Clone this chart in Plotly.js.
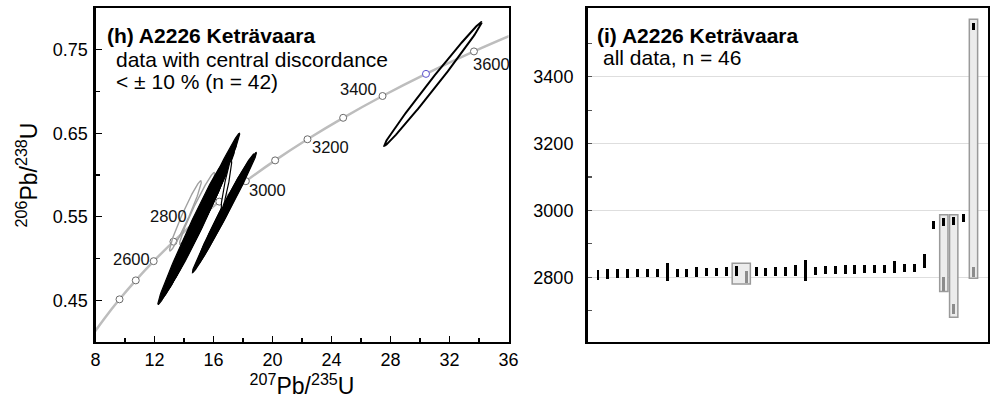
<!DOCTYPE html>
<html>
<head>
<meta charset="utf-8">
<script src="https://cdn.plot.ly/plotly-3.0.1.min.js"></script>
<style>
  html,body{margin:0;padding:0;background:#fff;}
  #chart{width:990px;height:402px;}
</style>
</head>
<body>
<div id="chart"></div>
<script>
// ---------------- Panel (h): concordia diagram ----------------
// Concordia reference points (age in Ma) with 207Pb/235U and 206Pb/238U ratios
const concAge = [2200, 2300, 2400, 2500, 2600, 2700, 2800, 2900, 3000, 3100, 3200, 3300, 3400, 3500, 3600, 3700];
const concX   = [7.730, 8.633, 9.629, 10.730, 11.944, 13.284, 14.763, 16.393, 18.193, 20.180, 22.371, 24.791, 27.460, 30.405, 33.657, 37.242];
const concY   = [0.4068, 0.4288, 0.4511, 0.4738, 0.4968, 0.5202, 0.5440, 0.5681, 0.5926, 0.6175, 0.6428, 0.6685, 0.6946, 0.7211, 0.7480, 0.7753];
const markerAges = [2400, 2500, 2600, 2700, 2800, 2900, 3000, 3100, 3200, 3300, 3400, 3500, 3600];
const highlightAge = 3500;
const labelAges = [2600, 2800, 3000, 3200, 3400, 3600];

// Error ellipses: 207Pb/235U, its error, 206Pb/238U, its error, error correlation, kind
const ellX    = [14.095, 14.89, 14.415, 15.14, 15.0, 15.05, 14.55, 15.45, 15.5, 14.5, 15.675, 15.825, 14.95, 16.87, 16.735, 16.875, 17.0, 16.65, 30.875];
const ellSX   = [1.075, 1.19, 2.185, 2.64, 2.2, 1.95, 1.95, 1.95, 1.6, 1.6, 1.875, 1.525, 1.65, 0.36, 2.175, 1.875, 1.6, 1.85, 3.305];
const ellY    = [0.551, 0.560, 0.5285, 0.551, 0.5415, 0.5415, 0.5275, 0.557, 0.565, 0.5265, 0.5685, 0.577, 0.5425, 0.588, 0.555, 0.5625, 0.5675, 0.5525, 0.709];
const ellSY   = [0.042, 0.043, 0.0835, 0.099, 0.0795, 0.0715, 0.0725, 0.071, 0.060, 0.0635, 0.0685, 0.055, 0.0625, 0.030, 0.072, 0.0625, 0.0525, 0.0625, 0.074];
const ellRho  = [0.97, 0.975, 0.989, 0.992, 0.989, 0.988, 0.988, 0.989, 0.987, 0.987, 0.99, 0.987, 0.988, 0.93, 0.992, 0.99, 0.988, 0.99, 0.9947];
const ellKind = ['outside', 'outside', 'accepted', 'accepted', 'accepted', 'accepted', 'accepted', 'accepted', 'accepted', 'accepted', 'accepted', 'accepted', 'accepted', 'open', 'accepted', 'accepted', 'accepted', 'accepted', 'old'];

// ---------------- Panel (i): ranked ages ----------------
const barRank = [0,1,2,3,4,5,6,7,8,9,10,11,12,13,14,16,17,18,19,20,21,22,23,24,25,26,27,28,29,30,31,32,33,34,35,36,37,38];
const barAge  = [2807,2810,2811,2811,2813,2812,2813,2816,2814,2814,2817,2816,2817,2817,2819,2817,2817,2818,2818,2820,2821,2820,2821,2822,2823,2823,2824,2825,2826,2830,2829,2829,2848,2957,2965,2968,2977,3551];
const barErr  = [15,16,14,14,13,12,11,27,12,12,15,12,12,13,15,13,12,13,14,16,31,12,12,13,14,13,12,13,12,18,12,12,21,12,11,11,13,11];
const greyRank = [15, 35, 36, 38];
const greyAge  = [2801, 2780, 2705, 2817];
const greyErr  = [19, 20, 15, 15];
const boxFirst = [14, 35, 36, 38];
const boxLast  = [15, 35, 36, 38];
const boxLow   = [2780, 2757, 2680, 2797];
const boxHigh  = [2842, 2987, 2987, 3572];

const FONT = 'Liberation Sans, Arial, sans-serif';

function ellipsePath(cx, sx, cy, sy, rho) {
  const xs = [], ys = [];
  const k = Math.sqrt(1 - rho * rho);
  const n = 160;
  for (let i = 0; i <= n; i++) {
    const t = 2 * Math.PI * i / n;
    xs.push(cx + sx * Math.cos(t));
    ys.push(cy + sy * (rho * Math.cos(t) + k * Math.sin(t)));
  }
  return {xs, ys};
}

const traces = [];

// concordia curve
traces.push({
  type: 'scatter', mode: 'lines', x: concX, y: concY,
  line: {color: '#bdbdbd', width: 2.5, shape: 'spline'},
  xaxis: 'x', yaxis: 'y', hoverinfo: 'skip'
});
// concordia markers
const mIdx = markerAges.map(a => concAge.indexOf(a));
traces.push({
  type: 'scatter', mode: 'markers',
  x: mIdx.map(i => concX[i]), y: mIdx.map(i => concY[i]),
  marker: {symbol: 'circle', size: 7, color: '#ffffff',
           line: {color: markerAges.map(a => a === highlightAge ? '#5a4fcf' : '#6a6a6a'), width: 1}},
  xaxis: 'x', yaxis: 'y', hoverinfo: 'skip'
});

const kindStyle = {
  outside:  {fill: 'none',    fillcolor: 'rgba(0,0,0,0)', line: '#a0a0a0', w: 1.4},
  accepted: {fill: 'toself',  fillcolor: '#000000',       line: '#000000', w: 1.2},
  open:     {fill: 'toself',  fillcolor: '#ffffff',       line: '#000000', w: 1.2},
  old:      {fill: 'none',    fillcolor: 'rgba(0,0,0,0)', line: '#000000', w: 2}
};
const order = ['outside', 'accepted', 'open', 'old'];
order.forEach(kind => {
  ellX.forEach((cx, i) => {
    if (ellKind[i] !== kind) return;
    const p = ellipsePath(cx, ellSX[i], ellY[i], ellSY[i], ellRho[i]);
    const st = kindStyle[kind];
    traces.push({
      type: 'scatter', mode: 'lines', x: p.xs, y: p.ys,
      fill: st.fill, fillcolor: st.fillcolor,
      line: {color: st.line, width: st.w},
      xaxis: 'x', yaxis: 'y', hoverinfo: 'skip'
    });
  });
});

// ranked-age panel: boxes, grey bars, black bars
traces.push({
  type: 'bar', xaxis: 'x2', yaxis: 'y2',
  x: boxFirst.map((f, i) => (f + boxLast[i]) / 2),
  base: boxLow, y: boxHigh.map((h, i) => h - boxLow[i]),
  width: boxFirst.map((f, i) => boxLast[i] - f + 0.84),
  marker: {color: '#ececec', line: {color: '#9a9a9a', width: 1.5}},
  hoverinfo: 'skip'
});
traces.push({
  type: 'bar', xaxis: 'x2', yaxis: 'y2',
  x: greyRank, base: greyAge.map((a, i) => a - greyErr[i]), y: greyErr.map(e => 2 * e),
  width: 0.3, marker: {color: '#8c8c8c', line: {width: 0}}, hoverinfo: 'skip'
});
traces.push({
  type: 'bar', xaxis: 'x2', yaxis: 'y2',
  x: barRank, base: barAge.map((a, i) => a - barErr[i]), y: barErr.map(e => 2 * e),
  width: 0.3, marker: {color: '#000000', line: {width: 0}}, hoverinfo: 'skip'
});

// concordia age labels
const labelStyle = {
  2600: {xanchor: 'right', xshift: -2, yshift: 2},
  2800: {xanchor: 'right', xshift: -6, yshift: 6},
  3000: {xanchor: 'left',  xshift: 1,  yshift: -9},
  3200: {xanchor: 'left',  xshift: 3,  yshift: -8},
  3400: {xanchor: 'right', xshift: -4, yshift: 7},
  3600: {xanchor: 'left',  xshift: -3, yshift: -13}
};
const annotations = labelAges.map(a => {
  const i = concAge.indexOf(a);
  const s = labelStyle[a];
  return {xref: 'x', yref: 'y', x: concX[i], y: concY[i], text: String(a), showarrow: false,
          xanchor: s.xanchor, yanchor: 'middle', xshift: s.xshift, yshift: s.yshift,
          font: {family: FONT, size: 16.5, color: '#111'}};
});

// panel texts (paper coords computed from pixel positions)
const W = 990, H = 402, ML = 95, MR = 2, MT = 8, MB = 60;
const px = v => (v - ML) / (W - ML - MR);
const py = v => (H - MB - v) / (H - MT - MB);
const txt = (x, y, text, bold) => ({xref: 'paper', yref: 'paper', x: px(x), y: py(y), text: text,
  showarrow: false, xanchor: 'left', yanchor: 'middle', align: 'left',
  font: {family: FONT, size: 21, color: '#000', weight: bold ? 'bold' : 'normal'}});
annotations.push(txt(105, 35, '(h) A2226 Keträvaara', true));
annotations.push(txt(114, 59, 'data with central discordance', false));
annotations.push(txt(114, 82, '&lt; ± 10 % (n = 42)', false));
annotations.push(txt(595, 35, '(i) A2226 Keträvaara', true));
annotations.push(txt(601, 58, 'all data, n = 46', false));

const tickFont = {family: FONT, size: 18, color: '#000'};
const layout = {
  width: W, height: H,
  margin: {l: ML, r: MR, t: MT, b: MB},
  paper_bgcolor: '#fff', plot_bgcolor: '#fff',
  showlegend: false, barmode: 'overlay', bargap: 0,
  xaxis: {
    domain: [px(95.5), px(508.5)], range: [8, 36],
    tickmode: 'array', tickvals: [8, 12, 16, 20, 24, 28, 32, 36],
    ticks: 'inside', ticklen: 6, tickwidth: 1.3, tickcolor: '#000',
    minor: {tickmode: 'array', tickvals: [10, 14, 18, 22, 26, 30, 34], ticks: 'inside', ticklen: 4, tickwidth: 1.2, tickcolor: '#000', showgrid: false},
    showline: true, linecolor: '#000', linewidth: 2.2, mirror: true,
    showgrid: false, zeroline: false, tickfont: tickFont,
    title: {text: '<sup>207</sup>Pb/<sup>235</sup>U', font: {family: FONT, size: 23, color: '#000'}, standoff: 8},
    anchor: 'y'
  },
  yaxis: {
    domain: [0, 1], range: [0.4, 0.8],
    tickmode: 'array', tickvals: [0.45, 0.55, 0.65, 0.75], ticktext: ['0.45', '0.55', '0.65', '0.75'],
    ticks: 'inside', ticklen: 6, tickwidth: 1.3, tickcolor: '#000',
    minor: {tickmode: 'array', tickvals: [0.5, 0.6, 0.7], ticks: 'inside', ticklen: 4, tickwidth: 1.2, tickcolor: '#000', showgrid: false},
    showline: true, linecolor: '#000', linewidth: 2.2, mirror: true,
    showgrid: false, zeroline: false, tickfont: tickFont, ticklabelstandoff: 2,
    title: {text: '<sup>206</sup>Pb/<sup>238</sup>U', font: {family: FONT, size: 23, color: '#000'}, standoff: 9},
    anchor: 'x'
  },
  xaxis2: {
    domain: [px(588), px(988)], range: [-1.01, 39.47],
    showticklabels: false, ticks: '', showgrid: false, zeroline: false,
    showline: true, linecolor: '#000', linewidth: 2, mirror: true,
    anchor: 'y2'
  },
  yaxis2: {
    domain: [0, 1], range: [2606, 3606],
    tickmode: 'array', tickvals: [2800, 3000, 3200, 3400],
    ticks: 'inside', ticklen: 4, tickwidth: 1.2, tickcolor: '#555',
    minor: {tickmode: 'array', tickvals: [2700, 2900, 3100, 3300, 3500], ticks: 'inside', ticklen: 4, tickwidth: 1.2, tickcolor: '#555', showgrid: false},
    showgrid: true, gridcolor: '#dedede', gridwidth: 1.2,
    showline: true, linecolor: '#000', linewidth: 3, mirror: true,
    zeroline: false, tickfont: tickFont, ticklabelstandoff: 8,
    anchor: 'x2'
  },
  annotations: annotations
};

Plotly.newPlot('chart', traces, layout, {staticPlot: true, displayModeBar: false});
</script>
</body>
</html>
